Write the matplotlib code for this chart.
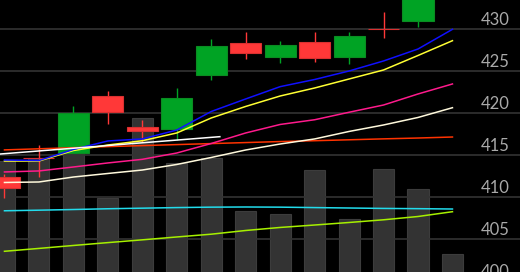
import numpy as np
import matplotlib
matplotlib.use("Agg")
import matplotlib.pyplot as plt

# candles (index 13 has no visible candle)
opens = [412.42, 414.70, 415.31, 422.04, 418.30, 418.12, 424.50, 428.30, 426.71, 428.46, 426.71, 429.98, 430.95, np.nan]
closes = [411.12, 414.65, 420.06, 420.18, 417.85, 421.84, 427.98, 427.19, 428.06, 426.59, 429.20, 429.95, 434.60, np.nan]
highs = [412.78, 416.22, 420.86, 422.64, 419.19, 422.96, 428.81, 429.68, 428.61, 429.68, 429.68, 432.02, 435.00, np.nan]
lows = [409.93, 412.42, 415.25, 418.72, 416.58, 416.82, 423.94, 426.40, 426.00, 426.12, 425.84, 428.90, 430.27, np.nan]

volume = [40.8, 41.9, 44.9, 27.2, 56.6, 40.1, 41.9, 22.4, 21.3, 37.5, 19.5, 37.9, 30.5, 6.6]

ma_blue = [414.44, 414.38, 415.69, 416.70, 416.94, 418.00, 420.20, 421.69, 423.15, 424.00, 425.01, 426.20, 427.62, 429.96]
ma_yellow = [414.32, 414.32, 415.57, 416.22, 416.73, 417.65, 419.43, 420.80, 422.04, 422.99, 424.06, 425.13, 426.85, 428.61]
ma_pink = [413.02, 413.14, 413.61, 414.09, 414.52, 415.27, 416.40, 417.65, 418.66, 419.22, 420.11, 420.97, 422.28, 423.47]
ma_cream = [411.77, 411.83, 412.42, 412.84, 413.25, 413.91, 414.74, 415.63, 416.34, 416.94, 417.83, 418.60, 419.49, 420.65]
ma_red = [415.64, 415.77, 415.90, 416.03, 416.15, 416.27, 416.39, 416.51, 416.63, 416.73, 416.84, 416.95, 417.05, 417.17]
ma_cyan = [408.41, 408.48, 408.56, 408.65, 408.72, 408.79, 408.84, 408.86, 408.84, 408.79, 408.74, 408.69, 408.66, 408.62]
ma_lime = [403.60, 403.94, 404.29, 404.63, 404.96, 405.30, 405.63, 406.07, 406.43, 406.72, 407.02, 407.34, 407.73, 408.30]

# drawn trend line
trend_x = [-0.5, 6.25]
trend_y = [415.03, 417.21]

price_ticks = [400, 405, 410, 415, 420, 425, 430]

x = np.arange(len(volume))

fig = plt.figure(figsize=(5.2, 2.72), dpi=100, facecolor='black')
ax_vol = fig.add_axes([0, 0, 1, 1])
ax_vol.set_facecolor('black')
ax = ax_vol.twinx()
ax.patch.set_alpha(0)

# volume bars
ax_vol.bar(x, volume, width=0.61, color='#333333', edgecolor='#3c3c3c', linewidth=0.8)
ax_vol.set_ylim(0, 100)

# grid
for p in price_ticks:
    ax.axhline(p, color='#333333', linewidth=1.2, zorder=1)

# candles
for i in range(len(opens)):
    if np.isnan(opens[i]):
        continue
    up = closes[i] >= opens[i]
    col = '#00a324' if up else '#ff3838'
    edge = '#0b8c22' if up else '#d93030'
    ax.vlines(x[i], lows[i], highs[i], color=col, linewidth=1.0, zorder=2)
    lo = min(opens[i], closes[i])
    ax.bar(x[i], abs(closes[i] - opens[i]), bottom=lo, width=0.9,
           color=col, edgecolor=edge, linewidth=0.8, zorder=2.5)

# moving averages
ax.plot(x, ma_lime, color='#a6f000', linewidth=1.1, zorder=3)
ax.plot(x, ma_cyan, color='#22dcec', linewidth=1.1, zorder=3)
ax.plot(x, ma_red, color='#ff3300', linewidth=1.1, zorder=3)
ax.plot(x, ma_cream, color='#fff9dc', linewidth=1.1, zorder=3)
ax.plot(x, ma_pink, color='#ff1a8c', linewidth=1.1, zorder=3)
ax.plot(x, ma_yellow, color='#ffff33', linewidth=1.1, zorder=3)
ax.plot(x, ma_blue, color='#1010ff', linewidth=1.1, zorder=3)
ax.plot(trend_x, trend_y, color='#ffffff', linewidth=1.1, zorder=3)

# price labels above grid lines
for p in price_ticks:
    ax.annotate(str(p), xy=(0.981, p), xycoords=('axes fraction', 'data'),
                xytext=(0, 3), textcoords='offset points',
                ha='right', va='baseline', color='#a9a9a9',
                fontsize=12, family='Lato', zorder=4)

ax.set_xlim(-0.13, 14.96)
ax.set_ylim(401.14, 433.44)
for a in (ax, ax_vol):
    a.set_xticks([])
    a.set_yticks([])
    for s in a.spines.values():
        s.set_visible(False)

fig.savefig('out.png', dpi=100, facecolor='black')
